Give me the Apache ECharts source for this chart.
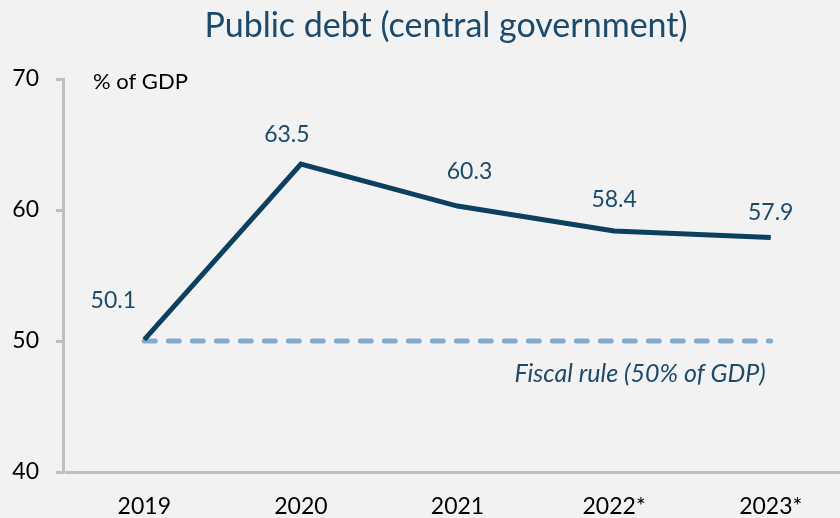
<!DOCTYPE html>
<html>
<head>
<meta charset="utf-8">
<style>
  html, body { margin: 0; padding: 0; background: #f2f2f2; }
  #chart { width: 840px; height: 518px; }
</style>
<script src="https://cdn.jsdelivr.net/npm/echarts@6/dist/echarts.min.js"></script>
</head>
<body>
<div id="chart"></div>
<script>
// Central government debt, % of GDP
const years = ['2019', '2020', '2021', '2022*', '2023*'];
const debt = [50.1, 63.5, 60.3, 58.4, 57.9];
const fiscalRule = [50, 50, 50, 50, 50];
const yTicks = { min: 40, max: 70, interval: 10 };

// label placement per point (offset from the point, px)
const labelOffsets = [[-31, -39], [-14, -30], [12, -34], [0, -31], [0, -25]];

const FONT = 'Lato';
const TEAL = '#1b4a6b';

const chart = echarts.init(document.getElementById('chart'));
chart.setOption({
  backgroundColor: '#f2f2f2',
  animation: false,
  title: {
    text: 'Public debt (central government)',
    left: 441,
    textAlign: 'center',
    top: 4,
    textStyle: { fontFamily: FONT, fontWeight: 'normal', fontSize: 34, color: TEAL }
  },
  grid: { left: 66, top: 79, width: 783, height: 393, outerBoundsMode: 'none' },
  xAxis: {
    type: 'category',
    data: years,
    boundaryGap: true,
    axisLine: { lineStyle: { color: '#bfbfbf', width: 3 } },
    axisTick: { show: false },
    axisLabel: { fontFamily: FONT, fontSize: 23, color: '#000', margin: 23 }
  },
  yAxis: {
    type: 'value',
    offset: 3,
    min: yTicks.min, max: yTicks.max, interval: yTicks.interval,
    name: '% of GDP',
    nameLocation: 'end',
    nameGap: -14,
    nameTextStyle: { fontFamily: FONT, fontSize: 22, color: '#000', align: 'left', padding: [0, 0, 0, 30] },
    splitLine: { show: false },
    axisLine: { show: true, lineStyle: { color: '#bfbfbf', width: 3 } },
    axisTick: { show: true, length: 7, lineStyle: { color: '#bfbfbf', width: 3 } },
    axisLabel: { fontFamily: FONT, fontSize: 23, color: '#000', margin: 24 }
  },
  series: [
    {
      name: 'Fiscal rule',
      type: 'line',
      data: fiscalRule,
      symbol: 'none',
      z: 1,
      lineStyle: { color: '#85aad0', width: 5, type: [11, 13], cap: 'round' },
      endLabel: {
        show: true,
        formatter: 'Fiscal rule (50% of GDP)',
        fontFamily: FONT, fontStyle: 'italic', fontSize: 25, color: TEAL,
        align: 'right',
        offset: [-13, 33]
      }
    },
    {
      name: 'Public debt',
      type: 'line',
      data: debt.map((v, i) => ({
        value: v,
        label: { offset: labelOffsets[i] }
      })),
      symbol: 'circle',
      symbolSize: 1,
      showSymbol: true,
      itemStyle: { color: '#0d3f5f' },
      z: 3,
      lineStyle: { color: '#0d3f5f', width: 5, join: 'miter' },
      label: {
        show: true,
        position: 'inside',
        formatter: p => p.value.toFixed(1),
        fontFamily: FONT, fontSize: 23, color: TEAL
      }
    }
  ]
});
</script>
</body>
</html>
